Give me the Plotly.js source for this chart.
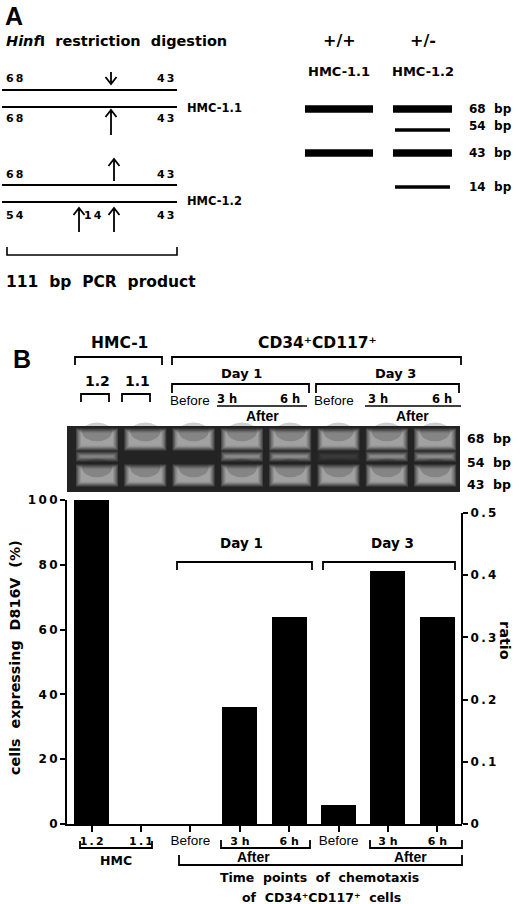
<!DOCTYPE html>
<html>
<head>
<meta charset="utf-8">
<script src="https://cdn.plot.ly/plotly-3.0.1.min.js"></script>
<style>html,body{margin:0;padding:0;background:#fff;}#chart{width:520px;height:904px;}</style>
</head>
<body>
<div id="chart"></div>
<script>
// ---------------- data ----------------
const categories = ['1.2', '1.1', 'Before', '3 h', '6 h', 'Before', '3 h', '6 h'];
const groups = ['HMC', 'HMC', 'Day 1', 'Day 1', 'Day 1', 'Day 3', 'Day 3', 'Day 3'];
const pctD816V = [100, 0, 0, 36, 64, 6, 78, 64];
const pctTicks = [0, 20, 40, 60, 80, 100];
const ratioTicks = [0, 0.1, 0.2, 0.3, 0.4, 0.5];
const gelBand68 = [1, 1, 1, 1, 1, 1, 1, 1];
const gelBand54 = [0.75, 0, 0, 0.8, 0.85, 0.15, 0.8, 0.85];
const gelBand43 = [1, 1, 1, 1, 1, 1, 1, 1];
const gelLabels = ['68 bp', '54 bp', '43 bp'];
const fragLabels = ['68 bp', '54 bp', '43 bp', '14 bp'];
const bandsWT = [1, 0, 1, 0];   // HMC-1.1 (+/+)
const bandsHet = [1, 1, 1, 1];  // HMC-1.2 (+/-)
const genotypes = ['+/+', '+/-'];
const cellLines = ['HMC-1.1', 'HMC-1.2'];
const cellType = 'CD34\u207ACD117\u207A';

// ---------------- geometry helpers ----------------
const L = 67, R = 462, T = 500, B = 824;
const X = px => (px - L) / (R - L);
const Y = py => (B - py) / (B - T);
const FD = 'DejaVu Sans', FA = 'Liberation Sans, Arial';
const shapes = [], ann = [];
const thin = '\u2009';
const spaced = s => s.split('').join(thin);

function seg(x0, y0, x1, y1, w) {
  shapes.push({type: 'line', xref: 'paper', yref: 'paper', x0: X(x0), y0: Y(y0), x1: X(x1), y1: Y(y1),
    line: {color: 'black', width: w || 1.6}});
}
function path(d, w) {
  shapes.push({type: 'path', xref: 'paper', yref: 'paper', path: d, line: {color: 'black', width: w || 1.6}});
}
const P = (px, py) => X(px) + ',' + Y(py);
function bracketDown(x0, x1, y, h, w) { path('M' + P(x0, y + h) + ' L' + P(x0, y) + ' L' + P(x1, y) + ' L' + P(x1, y + h), w); }
function bracketUp(x0, x1, y, h, w) { path('M' + P(x0, y - h) + ' L' + P(x0, y) + ' L' + P(x1, y) + ' L' + P(x1, y - h), w); }
function arrow(x, yTail, yTip) {
  const d = yTip > yTail ? -1 : 1;
  path('M' + P(x, yTail) + ' L' + P(x, yTip) + ' M' + P(x - 5.5, yTip + d * 7) + ' L' + P(x, yTip) + ' L' + P(x + 5.5, yTip + d * 7), 1.8);
}
function txt(text, px, py, o) {
  o = o || {};
  ann.push({text: text, xref: 'paper', yref: 'paper', x: X(px), y: Y(py), xanchor: o.anchor || 'center', yanchor: 'middle',
    showarrow: false, textangle: o.angle || 0,
    font: {family: o.family || FD, size: o.size || 13, color: 'black', weight: o.weight || 'bold'}});
}
function rectPx(x0, y0, x1, y1, color, op) {
  shapes.push({type: 'rect', xref: 'paper', yref: 'paper', x0: X(x0), y0: Y(y0), x1: X(x1), y1: Y(y1),
    fillcolor: color, opacity: op == null ? 1 : op, line: {width: 0}, layer: 'above'});
}

// ---------------- Panel A ----------------
txt('A', 3, 16, {anchor: 'left', size: 25, family: FA});
txt('<i>Hinf</i>I\u00a0 restriction\u00a0 digestion', 4, 41, {anchor: 'left', size: 14.5});
[90, 107, 185, 202].forEach(y => seg(2, y, 177, y, 2));
txt(cellLines[0], 185, 108, {anchor: 'left', size: 11.5});
txt(cellLines[1], 185, 201, {anchor: 'left', size: 11.5});
[[79, '68', '43'], [118, '68', '43'], [174, '68', '43'], [215, '54', '43']].forEach(r => {
  txt(spaced(r[1]), 15, r[0], {size: 11});
  txt(spaced(r[2]), 166, r[0], {size: 11});
});
txt(spaced('14'), 93, 215, {size: 11});
arrow(111, 72, 84);
arrow(111, 135, 110);
arrow(114, 181, 159);
arrow(79, 232, 208);
arrow(114, 232, 208);
bracketUp(7, 177, 255, 8, 1.6);
txt('111\u00a0 bp\u00a0 PCR\u00a0 product', 4, 282, {anchor: 'left', size: 15.5});

// genotype gel scheme
const schemeX = [[305, 373], [393, 452]];
const schemeY = [109, 130, 153, 187];
const schemeW = [7.5, 3.5, 7.5, 3.5];
genotypes.forEach((g, j) => {
  const cx = (schemeX[j][0] + schemeX[j][1]) / 2;
  txt(g, cx, 40, {size: 16});
  txt(cellLines[j], cx, 72, {size: 13});
  const pres = j === 0 ? bandsWT : bandsHet;
  pres.forEach((p, k) => {
    if (!p) return;
    const inset = schemeW[k] < 5 ? 2 : 0;
    seg(schemeX[j][0] + inset, schemeY[k], schemeX[j][1] - inset, schemeY[k], schemeW[k]);
  });
});
fragLabels.forEach((f, k) => txt(f.replace(' ', '\u00a0 '), 467, [109, 126, 153, 187][k], {anchor: 'left', size: 12}));

// ---------------- Panel B header ----------------
txt('B', 11, 359, {anchor: 'left', size: 25, family: FA});
txt('HMC-1', 119, 343, {size: 15.5});
bracketDown(75, 162, 357, 8, 1.8);
txt(cellType, 317, 343, {size: 15.5});
bracketDown(172, 461, 357, 8, 1.8);
txt('1.2', 97, 381, {size: 14});
txt('1.1', 137, 381, {size: 14});
bracketDown(81, 109, 394, 8, 1.8);
bracketDown(122, 150, 394, 8, 1.8);
txt('Day 1', 241, 373, {size: 13});
txt('Day 3', 395, 373, {size: 13});
bracketDown(172, 309, 384, 9, 1.8);
bracketDown(316, 459, 384, 9, 1.8);
txt('Before', 190, 400, {size: 13.5, family: FA, weight: 'normal'});
txt('Before', 334, 400, {size: 13.5, family: FA, weight: 'normal'});
txt('3 h', 227, 399, {size: 11.5}); txt('6 h', 290, 399, {size: 11.5});
txt('3 h', 378, 399, {size: 11.5}); txt('6 h', 442, 399, {size: 11.5});
seg(217, 406, 307, 406, 1.5); seg(365, 406, 461, 406, 1.5);
txt('After', 262, 416, {size: 14, family: FA});
txt('After', 412, 416, {size: 14, family: FA});

// gel background
rectPx(67, 426, 460, 492, '#232323', 1);
gelLabels.forEach((g, k) => txt(g.replace(' ', '\u00a0 '), 465, [438, 462, 484][k], {anchor: 'left', size: 12.5}));

// gel bands (lanes placed on hidden axis x2, 48.3 px per lane)
const PX = 48.3;
const yb = {b68: [431, 448], b54: [454, 459], b43: [467, 484]};
function gelBand(i, yr, inten, smile) {
  if (inten <= 0) return;
  for (let k = 0; k < 5; k++) {
    const e = 2.5 - k * 1.2;
    shapes.push({type: 'rect', xref: 'x2', yref: 'paper', x0: i - (18.5 + e) / PX, x1: i + (18.5 + e) / PX,
      y0: Y(yr[1] + e), y1: Y(yr[0] - e), fillcolor: '#eeeeee', opacity: 0.18 * inten,
      line: {width: 0}, layer: 'above'});
  }
  if (smile) {
    const h = yr[1] - yr[0];
    shapes.push({type: 'circle', xref: 'x2', yref: 'paper', x0: i - 15 / PX, x1: i + 15 / PX,
      y0: Y(yr[0] + h * 0.6), y1: Y(yr[0] - h * 0.5), fillcolor: '#232323', opacity: 0.22,
      line: {width: 0}, layer: 'above'});
  }
}
gelBand68.forEach((v, i) => gelBand(i, yb.b68, v, true));
gelBand54.forEach((v, i) => gelBand(i, yb.b54, v, false));
gelBand43.forEach((v, i) => gelBand(i, yb.b43, v, true));

// ---------------- bar chart annotations ----------------
txt('Day 1', 241, 543, {size: 13.5});
bracketDown(177, 312, 562, 8, 1.8);
txt('Day 3', 392, 543, {size: 13.5});
bracketDown(323, 455, 562, 8, 1.8);
shapes.push({type: 'line', xref: 'paper', yref: 'y2', x0: 1, x1: 1, y0: 0, y1: 0.5, line: {color: 'black', width: 2}});

bracketUp(80, 152, 848, 7, 1.8);
txt(groups[0], 116, 860, {size: 12.5});
bracketUp(221, 310, 848, 8, 1.8);
bracketUp(370, 462, 848, 8, 1.8);
bracketUp(179, 462, 865, 10, 1.8);
txt('After', 253, 857, {size: 14, family: FA});
txt('After', 410, 857, {size: 14, family: FA});
txt('Time\u00a0 points\u00a0 of\u00a0 chemotaxis', 319, 877, {size: 12.5});
txt('of\u00a0 ' + cellType + '\u00a0 cells', 321, 897, {size: 12.5});
txt('cells\u00a0 expressing\u00a0 D816V\u00a0 (%)', 15, 658, {size: 14.3, angle: -90});
txt('ratio', 505, 641, {size: 14.5, angle: 90});

// ---------------- traces ----------------
const xIdx = categories.map((c, i) => i);
const xTickText = categories.map(c => c === 'Before'
  ? '<span style="font-family:Liberation Sans, Arial;font-weight:normal;font-size:13.5px">' + c + '</span>'
  : (c.indexOf('.') > 0 ? spaced(c) : c));
const traces = [
  {type: 'bar', x: xIdx, y: pctD816V, marker: {color: 'black', line: {width: 0}}, width: 0.71,
    textposition: 'none', hoverinfo: 'skip', showlegend: false},
  {type: 'scatter', mode: 'none', x: [], y: [], xaxis: 'x', yaxis: 'y2', hoverinfo: 'skip', showlegend: false},
  {type: 'scatter', mode: 'none', x: [], y: [], xaxis: 'x2', yaxis: 'y', hoverinfo: 'skip', showlegend: false}
];

const layout = {
  width: 520, height: 904,
  margin: {l: L, r: 520 - R, t: T, b: 904 - B, pad: 0},
  paper_bgcolor: 'white', plot_bgcolor: 'rgba(0,0,0,0)',
  showlegend: false, bargap: 0,
  xaxis: {range: [-0.5, 7.5], tickvals: xIdx, ticktext: xTickText, ticks: 'outside', ticklen: 6,
    tickwidth: 2, tickcolor: 'black', showline: true, linewidth: 2, linecolor: 'black', showgrid: false,
    zeroline: false, fixedrange: true, tickangle: 0,
    tickfont: {family: FD, size: 11, color: 'black', weight: 'bold'}},
  xaxis2: {overlaying: 'x', range: [-0.621, 7.557], showticklabels: false, ticks: '', showline: false,
    showgrid: false, zeroline: false, fixedrange: true},
  yaxis: {range: [0, 100], tickvals: pctTicks, ticktext: pctTicks.map(v => spaced(String(v))), ticks: 'outside',
    ticklen: 5, tickwidth: 2, tickcolor: 'black', showline: true, linewidth: 2, linecolor: 'black',
    showgrid: false, zeroline: false, fixedrange: true,
    tickfont: {family: FD, size: 12, color: 'black', weight: 'bold'}},
  yaxis2: {overlaying: 'y', side: 'right', range: [0, 0.5 * 324 / 311], tickvals: ratioTicks,
    ticktext: ratioTicks.map(v => spaced(v === 0 ? '0' : v.toFixed(1))), ticks: 'outside', ticklen: 5, tickwidth: 2,
    tickcolor: 'black', showline: false, showgrid: false, zeroline: false, fixedrange: true,
    tickfont: {family: FD, size: 12, color: 'black', weight: 'bold'}},
  shapes: shapes,
  annotations: ann
};
Plotly.newPlot('chart', traces, layout, {displayModeBar: false, staticPlot: true});
</script>
</body>
</html>
